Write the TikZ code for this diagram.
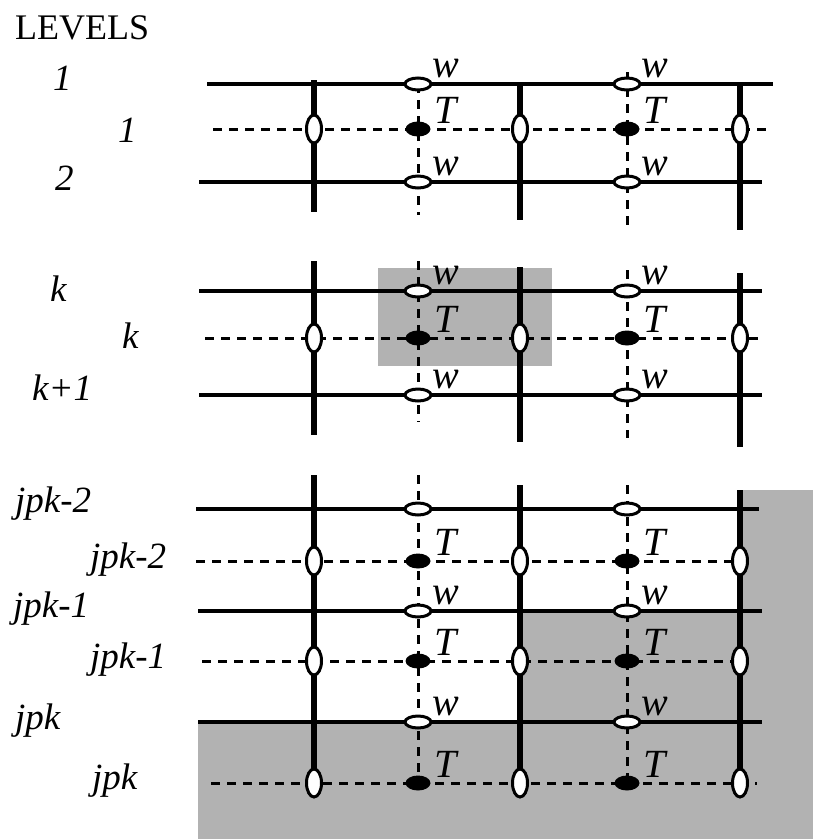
\documentclass[tikz,border=0pt]{standalone}
\usepackage{fontspec}
\setmainfont{LiberationSerif}[Extension=.ttf,UprightFont=*-Regular,ItalicFont=*-Italic,BoldFont=*-Bold,BoldItalicFont=*-BoldItalic]
\usetikzlibrary{shapes.geometric}
\definecolor{panel}{gray}{0.7}

\begin{document}
\begin{tikzpicture}[x=1pt,y=-1pt]
	\tikzstyle{every node}+=[inner sep=0pt]
	\tikzstyle{wire}=[black,line width=4.5pt]
	\tikzstyle{bar}=[black,line width=5.5pt]
	\tikzstyle{link}=[black,line width=3pt,dash pattern=on 9pt off 7pt]
	\tikzstyle{hole}=[ellipse,draw,fill=white,line width=3pt,minimum width=26pt,minimum height=12pt]
	\tikzstyle{ring}=[ellipse,draw,fill=white,line width=3pt,minimum width=15pt,minimum height=28pt]
	\tikzstyle{tdot}=[ellipse,fill=black,minimum width=25pt,minimum height=15pt]
	\tikzstyle{lev}=[anchor=base west,font=\fontsize{37}{37}\selectfont\itshape]
	\tikzstyle{tag}=[anchor=base west,font=\fontsize{40}{40}\selectfont\itshape]
	\useasboundingbox (0,0) rectangle (813,839);
	% shaded regions
	\fill [panel] (378,268) rectangle (552,366);
	\fill [panel] (740,490) -- (813,490) -- (813,839) -- (198,839) -- (198,722) -- (520,722) -- (520,611) -- (740,611) -- cycle;
	\node [anchor=base west,font=\fontsize{36}{36}\selectfont] (title) at (15,39) {LEVELS};
	% levels 1 - 2
	\coordinate (r1w) at (207,84); \coordinate (r1e) at (773,84);
	\coordinate (s1w) at (213,129); \coordinate (s1e) at (773,129);
	\coordinate (r2w) at (199,182); \coordinate (r2e) at (762,182);
	\draw [wire] (r1w) -- (r1e);
	\draw [wire] (r2w) -- (r2e);
	\draw [link] (s1w) -- (s1e);
	\coordinate (b1n) at (314,80); \coordinate (b1s) at (314,212);
	\coordinate (b2n) at (520,85); \coordinate (b2s) at (520,220);
	\coordinate (b3n) at (740,85); \coordinate (b3s) at (740,230);
	\draw [bar] (b1n) -- (b1s);
	\draw [bar] (b2n) -- (b2s);
	\draw [bar] (b3n) -- (b3s);
	\coordinate (d1n) at (418,84); \coordinate (d1s) at (418,215);
	\coordinate (d2n) at (627,72); \coordinate (d2s) at (627,230);
	\draw [link] (d1n) -- (d1s);
	\draw [link] (d2n) -- (d2s);
	\node [hole] (h1a) at (418,84) {};
	\node [hole] (h1b) at (627,84) {};
	\node [hole] (h2a) at (418,182) {};
	\node [hole] (h2b) at (627,182) {};
	\node [ring] (o1a) at (314,129) {};
	\node [ring] (o1b) at (520,129) {};
	\node [ring] (o1c) at (740,129) {};
	\node [tdot] (t1a) at (418,129) {};
	\node [tdot] (t1b) at (627,129) {};
	\node [tag] (w1a) at ([shift={(14,-7)}]h1a.center) {w};
	\node [tag] (w1b) at ([shift={(14,-7)}]h1b.center) {w};
	\node [tag] (w2a) at ([shift={(14,-7)}]h2a.center) {w};
	\node [tag] (w2b) at ([shift={(14,-7)}]h2b.center) {w};
	\node [tag] (T1a) at ([shift={(16,-6)}]t1a.center) {T};
	\node [tag] (T1b) at ([shift={(16,-6)}]t1b.center) {T};
	\node [lev] (l1) at (53,90) {1};
	\node [lev] (m1) at (118,142) {1};
	\node [lev] (l2) at (55,190) {2};
	% levels k - k+1
	\coordinate (rkw) at (199,291); \coordinate (rke) at (762,291);
	\coordinate (skw) at (205,338); \coordinate (ske) at (764,338);
	\coordinate (rKw) at (199,395); \coordinate (rKe) at (762,395);
	\draw [wire] (rkw) -- (rke);
	\draw [wire] (rKw) -- (rKe);
	\draw [link] (skw) -- (ske);
	\coordinate (bk1n) at (314,261); \coordinate (bk1s) at (314,435);
	\coordinate (bk2n) at (520,267); \coordinate (bk2s) at (520,442);
	\coordinate (bk3n) at (740,273); \coordinate (bk3s) at (740,447);
	\draw [bar] (bk1n) -- (bk1s);
	\draw [bar] (bk2n) -- (bk2s);
	\draw [bar] (bk3n) -- (bk3s);
	\coordinate (dk1n) at (418,261); \coordinate (dk1s) at (418,422);
	\coordinate (dk2n) at (627,270); \coordinate (dk2s) at (627,438);
	\draw [link] (dk1n) -- (dk1s);
	\draw [link] (dk2n) -- (dk2s);
	\node [hole] (hka) at (418,291) {};
	\node [hole] (hkb) at (627,291) {};
	\node [hole] (hKa) at (418,395) {};
	\node [hole] (hKb) at (627,395) {};
	\node [ring] (oka) at (314,338) {};
	\node [ring] (okb) at (520,338) {};
	\node [ring] (okc) at (740,338) {};
	\node [tdot] (tka) at (418,338) {};
	\node [tdot] (tkb) at (627,338) {};
	\node [tag] (wka) at ([shift={(14,-7)}]hka.center) {w};
	\node [tag] (wkb) at ([shift={(14,-7)}]hkb.center) {w};
	\node [tag] (wKa) at ([shift={(14,-7)}]hKa.center) {w};
	\node [tag] (wKb) at ([shift={(14,-7)}]hKb.center) {w};
	\node [tag] (Tka) at ([shift={(16,-6)}]tka.center) {T};
	\node [tag] (Tkb) at ([shift={(16,-6)}]tkb.center) {T};
	\node [lev] (lk) at (50,301) {k};
	\node [lev] (mk) at (122,348) {k};
	\node [lev] (lK) at (32,400) {k+1};
	% levels jpk-2 - jpk
	\coordinate (rxw) at (196,509); \coordinate (rxe) at (759,509);
	\coordinate (sxw) at (196,561); \coordinate (sxe) at (755,561);
	\coordinate (ryw) at (198,611); \coordinate (rye) at (762,611);
	\coordinate (syw) at (202,661); \coordinate (sye) at (740,661);
	\coordinate (rzw) at (198,722); \coordinate (rze) at (762,722);
	\coordinate (szw) at (211,783); \coordinate (sze) at (757,783);
	\draw [wire] (rxw) -- (rxe);
	\draw [wire] (ryw) -- (rye);
	\draw [wire] (rzw) -- (rze);
	\draw [link] (sxw) -- (sxe);
	\draw [link] (syw) -- (sye);
	\draw [link] (szw) -- (sze);
	\coordinate (bz1n) at (314,475); \coordinate (bz1s) at (314,783);
	\coordinate (bz2n) at (520,485); \coordinate (bz2s) at (520,783);
	\coordinate (bz3n) at (740,490); \coordinate (bz3s) at (740,783);
	\draw [bar] (bz1n) -- (bz1s);
	\draw [bar] (bz2n) -- (bz2s);
	\draw [bar] (bz3n) -- (bz3s);
	\coordinate (dz1n) at (418,475); \coordinate (dz1s) at (418,783);
	\coordinate (dz2n) at (627,485); \coordinate (dz2s) at (627,783);
	\draw [link] (dz1n) -- (dz1s);
	\draw [link] (dz2n) -- (dz2s);
	\node [hole] (hxa) at (418,509) {};
	\node [hole] (hxb) at (627,509) {};
	\node [hole] (hya) at (418,611) {};
	\node [hole] (hyb) at (627,611) {};
	\node [hole] (hza) at (418,722) {};
	\node [hole] (hzb) at (627,722) {};
	\node [ring] (oxa) at (314,561) {};
	\node [ring] (oxb) at (520,561) {};
	\node [ring] (oxc) at (740,561) {};
	\node [ring] (oya) at (314,661) {};
	\node [ring] (oyb) at (520,661) {};
	\node [ring] (oyc) at (740,661) {};
	\node [ring] (oza) at (314,783) {};
	\node [ring] (ozb) at (520,783) {};
	\node [ring] (ozc) at (740,783) {};
	\node [tdot] (txa) at (418,561) {};
	\node [tdot] (txb) at (627,561) {};
	\node [tdot] (tya) at (418,661) {};
	\node [tdot] (tyb) at (627,661) {};
	\node [tdot] (tza) at (418,783) {};
	\node [tdot] (tzb) at (627,783) {};
	\node [tag] (wya) at ([shift={(14,-7)}]hya.center) {w};
	\node [tag] (wyb) at ([shift={(14,-7)}]hyb.center) {w};
	\node [tag] (wza) at ([shift={(14,-7)}]hza.center) {w};
	\node [tag] (wzb) at ([shift={(14,-7)}]hzb.center) {w};
	\node [tag] (Txa) at ([shift={(16,-6)}]txa.center) {T};
	\node [tag] (Txb) at ([shift={(16,-6)}]txb.center) {T};
	\node [tag] (Tya) at ([shift={(16,-6)}]tya.center) {T};
	\node [tag] (Tyb) at ([shift={(16,-6)}]tyb.center) {T};
	\node [tag] (Tza) at ([shift={(16,-6)}]tza.center) {T};
	\node [tag] (Tzb) at ([shift={(16,-6)}]tzb.center) {T};
	\node [lev] (lx) at (15,512) {jpk-2};
	\node [lev] (mx) at (90,568) {jpk-2};
	\node [lev] (ly) at (13,617) {jpk-1};
	\node [lev] (my) at (90,668) {jpk-1};
	\node [lev] (lz) at (15,729) {jpk};
	\node [lev] (mz) at (92,789) {jpk};
\end{tikzpicture}
\end{document}
